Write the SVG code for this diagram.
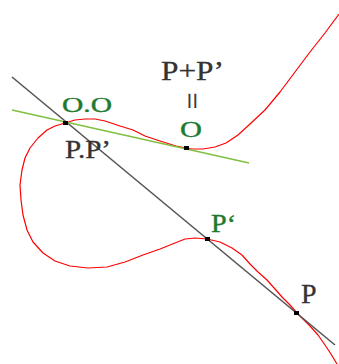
<svg xmlns="http://www.w3.org/2000/svg" width="339" height="364" viewBox="0 0 339 364">
<style>
.curve{fill:none;stroke:#ff0000;stroke-width:1.2;stroke-linejoin:round}
.secant{stroke:#555555;stroke-width:1.6}
.tangent{stroke:#80c040;stroke-width:1.6}
.pt{fill:#000}
.blk{fill:#333333;stroke:#333333;stroke-width:0.3}
.grn{fill:#1f7a2e;stroke:#1f7a2e;stroke-width:0.4}
</style>
<rect width="339" height="364" fill="#ffffff"/>
<g id="curve">
<polyline class="curve" points="339,14 325,33 310,52 295,72 280,92 265,110 250,124 238,135 226,143 215,147 203,149 192,149 186,148 176,146 160,141 145,136 133,130 120,126 105,121 95,119 85,119 75,120 65,123 55,126 47,130 38,138 30,148 25,158 22,170 20,185 21,200 23,215 27,230 33,242 43,253 55,261 70,266 88,268 107,267 125,262 143,255 160,249 175,243 185,239 195,238 207,239 220,242 232,248 242,255 250,264 258,272 267,280 275,289 282,297 290,305 297,313 304,320 310,326 318,335 325,345 331,354 337,364"/>
</g>
<g id="connectors">
<line class="secant" x1="12" y1="77" x2="335" y2="345"/>
<line class="tangent" x1="12" y1="110" x2="249" y2="163"/>
</g>
<g id="point-QO"><rect class="pt" x="63" y="121" width="5" height="4"/></g>
<g id="point-O"><rect class="pt" x="184" y="146" width="5" height="4"/></g>
<g id="point-Pprime"><rect class="pt" x="205" y="237" width="5" height="4"/></g>
<g id="point-P"><rect class="pt" x="294" y="311" width="5" height="4"/></g>
<g id="label-OO"><text class="grn" font-family="'Liberation Serif', 'Times New Roman', serif" x="62" y="112" font-size="22" textLength="50" lengthAdjust="spacingAndGlyphs">O.O</text></g>
<g id="label-PP"><text class="blk" font-family="'Liberation Serif', 'Times New Roman', serif" x="65" y="158" font-size="25" textLength="46" lengthAdjust="spacingAndGlyphs">P.P’</text></g>
<g id="label-sum"><text class="blk" font-family="'Liberation Serif', 'Times New Roman', serif" x="161" y="80" font-size="27" textLength="63" lengthAdjust="spacingAndGlyphs">P+P’</text></g>
<g id="label-eq"><text class="blk" font-family="'Liberation Serif', 'Times New Roman', serif" transform="translate(190,101) rotate(90)" text-anchor="middle" y="8" font-size="30">=</text></g>
<g id="label-O"><text class="grn" font-family="'Liberation Serif', 'Times New Roman', serif" x="180" y="137" font-size="24" textLength="22" lengthAdjust="spacingAndGlyphs">O</text></g>
<g id="label-Pprime"><text class="grn" font-family="'Liberation Serif', 'Times New Roman', serif" x="211" y="232" font-size="25" textLength="25" lengthAdjust="spacingAndGlyphs">P‘</text></g>
<g id="label-P"><text class="blk" font-family="'Liberation Serif', 'Times New Roman', serif" x="301" y="303" font-size="28">P</text></g>
</svg>
